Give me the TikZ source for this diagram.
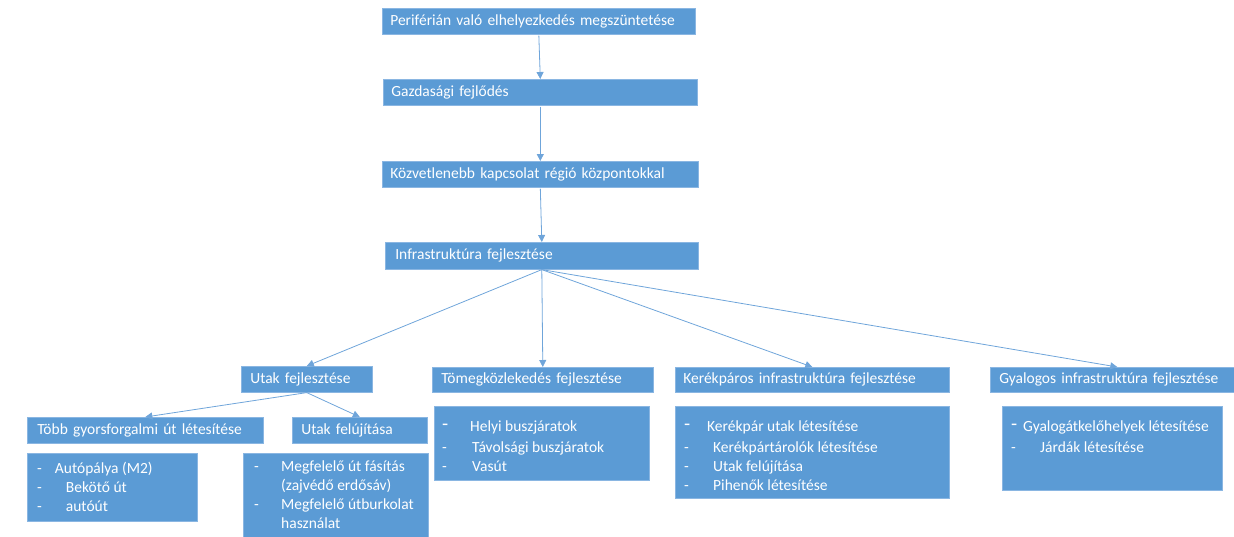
\documentclass[tikz,border=0pt]{standalone}
\usepackage{fontspec}
\setmainfont{Carlito}
\usetikzlibrary{arrows.meta}
\definecolor{boxblue}{HTML}{5B9BD5}
\definecolor{edgeblue}{HTML}{8AB6E2}
\definecolor{lineblue}{HTML}{6FA5DA}
\tikzset{
  hdr/.style={fill=boxblue, draw=edgeblue, line width=0.6pt, text=white, anchor=north west,
    inner xsep=8pt, inner ysep=0pt, align=left, font=\fontsize{15.5}{18}\selectfont},
  listbox/.style={fill=boxblue, draw=edgeblue, line width=0.6pt, anchor=north west, inner sep=0pt},
  listtext/.style={text=white, anchor=north west, inner sep=0pt, align=left,
    font=\fontsize{15.5}{19}\selectfont},
  conn/.style={draw=lineblue, line width=0.8pt, -{Triangle[width=7pt,length=7pt]}}
}
\newcommand{\bigdash}{\makebox[0pt][l]{\raisebox{1pt}{\fontsize{20}{19}\selectfont -}}}
\begin{document}
\begin{tikzpicture}[x=1pt,y=-1pt]
\useasboundingbox (0,0) rectangle (1234,536);
% top chain
\node[hdr, text width=297pt, minimum height=26pt] (n1) at (382,8) {\mbox{Periférián való elhelyezkedés megszüntetése}};
\node[hdr, text width=298pt, minimum height=26pt] (n2) at (383,79) {\mbox{Gazdasági fejlődés}};
\node[hdr, text width=300pt, minimum height=26pt] (n3) at (382,161) {\mbox{Közvetlenebb kapcsolat régió központokkal}};
\node[hdr, minimum height=27pt, inner xsep=10pt, text width=293pt] (n4) at (385,242) {\mbox{Infrastruktúra fejlesztése}};
% second row
\node[hdr, minimum height=26pt, inner xsep=9pt, text width=113pt] (utak) at (241,366) {\mbox{Utak fejlesztése}};
\node[hdr, minimum height=25pt, inner xsep=9pt, text width=203pt] (tomeg) at (432,367) {\mbox{Tömegközlekedés fejlesztése}};
\node[hdr, text width=258pt, minimum height=25pt] (kerek) at (675,367) {\mbox{Kerékpáros infrastruktúra fejlesztése}};
\node[hdr, minimum height=25pt, inner xsep=9pt, text width=236pt] (gyal) at (990,367) {\mbox{Gyalogos infrastruktúra fejlesztése}};
% third row headers
\node[hdr, minimum height=26pt, inner xsep=10pt, text width=216pt] (tobb) at (27,417) {\mbox{Több gyorsforgalmi út létesítése}};
\node[hdr, minimum height=26pt, inner xsep=9pt, text width=117pt] (felu) at (292,417) {\mbox{Utak felújítása}};
% list boxes
\node[listbox, minimum width=170pt, minimum height=68pt] (l1) at (27,453) {};
\node[listtext] (t1) at (37,462) {-\hspace{13pt}Autópálya (M2)\\[-0.5pt]-\hspace{24pt}Bekötő út\\-\hspace{24pt}autóút};
\node[listbox, minimum width=185pt, minimum height=90pt] (l2) at (243,453) {};
\node[listtext] (t2) at (254,461) {\makebox[27pt][l]{-}Megfelelő út fásítás\\\hspace{27pt}(zajvédő erdősáv)\\\makebox[27pt][l]{-}Megfelelő útburkolat\\\hspace{27pt}használat};
\node[listbox, minimum width=215pt, minimum height=74pt] (l3) at (434,406) {};
\node[listtext] (t3) at (442,421) {\makebox[28pt][l]{\bigdash}Helyi buszjáratok\\[2pt]\makebox[30pt][l]{-}Távolsági buszjáratok\\\makebox[30pt][l]{-}Vasút};
\node[listbox, minimum width=274pt, minimum height=92pt] (l4) at (675,406) {};
\node[listtext] (t4) at (684,421) {\makebox[23pt][l]{\bigdash}Kerékpár utak létesítése\\[2pt]\makebox[29pt][l]{-}Kerékpártárolók létesítése\\\makebox[29pt][l]{-}Utak felújítása\\\makebox[29pt][l]{-}Pihenők létesítése};
\node[listbox, minimum width=220pt, minimum height=84pt] (l5) at (1002,406) {};
\node[listtext] (t5) at (1011,421) {\makebox[12pt][l]{\bigdash}Gyalogátkelőhelyek létesítése\\[2pt]\makebox[29pt][l]{-}Járdák létesítése};
% connectors
\draw[conn, shorten <=1pt] (n1.south) -- (n2.north);
\draw[conn, shorten <=1pt] (n2.south) -- (n3.north);
\draw[conn, shorten <=1pt] (n3.south) -- (n4.north);
\draw[conn] (n4.south) -- (utak.north);
\draw[conn] (n4.south) -- (tomeg.north);
\draw[conn] (n4.south) -- (kerek.north);
\draw[conn] (n4.south) -- (gyal.north);
\draw[conn] (utak.south) -- (tobb.north);
\draw[conn] (utak.south) -- (felu.north);
\end{tikzpicture}
\end{document}
